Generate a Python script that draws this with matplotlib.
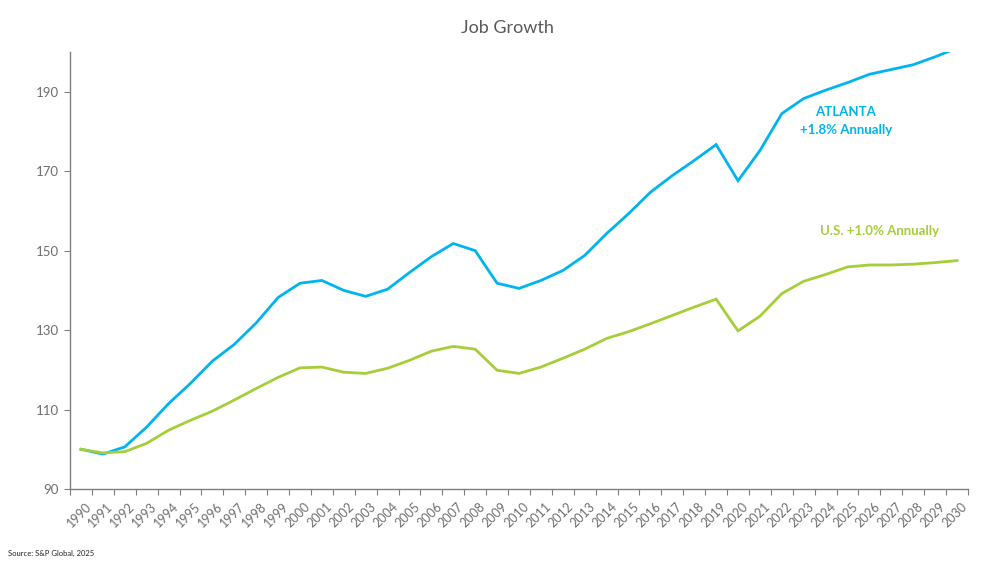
import matplotlib
matplotlib.use("Agg")
import matplotlib.pyplot as plt
import matplotlib.transforms as mtransforms
import numpy as np

years = list(range(1990, 2031))
atlanta = [100.0, 98.8, 100.6, 105.6, 111.5, 116.6, 122.2, 126.4, 131.8, 138.2,
           141.8, 142.5, 140.0, 138.5, 140.3, 144.5, 148.5, 151.8, 150.0, 141.8,
           140.5, 142.5, 145.0, 148.8, 154.3, 159.3, 164.7, 168.9, 172.7, 176.7,
           167.6, 175.2, 184.5, 188.3, 190.4, 192.3, 194.4, 195.6, 196.8, 198.8,
           201.0]
us = [100.0, 99.1, 99.4, 101.5, 104.8, 107.3, 109.6, 112.4, 115.3, 118.1,
      120.5, 120.7, 119.4, 119.1, 120.4, 122.4, 124.7, 125.9, 125.2, 119.9,
      119.1, 120.7, 122.9, 125.2, 127.9, 129.6, 131.6, 133.7, 135.8, 137.8,
      129.8, 133.5, 139.2, 142.3, 144.0, 145.9, 146.4, 146.4, 146.6, 147.0,
      147.5]
yticks = [90, 110, 130, 150, 170, 190]

BLUE = "#00B4EF"
GREEN = "#A6CE39"
GRAY = "#595959"
LGRAY = "#6E6E6E"
AX = "#7F7F7F"

plt.rcParams['font.family'] = ['Lato', 'DejaVu Sans']

fig = plt.figure(figsize=(10, 5.63), dpi=100)
ax = fig.add_axes([0.07, 0.1314, 0.898, 0.7762])

x = np.arange(len(years))
ax.plot(x, atlanta, color=BLUE, lw=2.0, solid_joinstyle='miter')
ax.plot(x, us, color=GREEN, lw=2.0, solid_joinstyle='miter')

ax.set_xlim(-0.5, len(years) - 0.5)
ax.set_ylim(90, 200)
ax.set_yticks(yticks)
ax.set_yticklabels([str(v) for v in yticks], color=LGRAY, fontsize=9.5)

ax.set_xticks(np.arange(-0.5, len(years), 1.0))
ax.set_xticklabels([])
ax.set_xticks(x, minor=True)
ax.set_xticklabels([str(y) for y in years], minor=True, rotation=45,
                   ha='right', va='top', rotation_mode='anchor',
                   color=LGRAY, fontsize=9)
ax.tick_params(axis='x', which='minor', length=0, pad=8)
ax.tick_params(axis='x', which='major', length=4, color=AX, direction='out')
ax.tick_params(axis='y', length=4, color=AX, direction='out', pad=4)

offset = mtransforms.ScaledTranslation(4/100, 0, fig.dpi_scale_trans)
for lbl in ax.get_xticklabels(minor=True):
    lbl.set_transform(lbl.get_transform() + offset)

for s in ['top', 'right']:
    ax.spines[s].set_visible(False)
for s in ['left', 'bottom']:
    ax.spines[s].set_color(AX)
    ax.spines[s].set_linewidth(1.0)

fig.text(0.507, 1 - 28/563, "Job Growth", ha='center', va='center',
         color=GRAY, fontsize=13)

fig.text(0.846, 1 - 112/563, "ATLANTA", ha='center', va='center',
         color=BLUE, fontsize=9.5, fontweight='bold')
fig.text(0.846, 1 - 130/563, "+1.8% Annually", ha='center', va='center',
         color=BLUE, fontsize=9.5, fontweight='bold')
fig.text(0.880, 1 - 231/563, "U.S. +1.0% Annually", ha='center', va='center',
         color=GREEN, fontsize=9.5, fontweight='bold')

fig.text(0.008, 1 - 553/563, "Source: S&P Global, 2025", ha='left', va='center',
         color="#222222", fontsize=5.5)

fig.savefig("out.png", dpi=100)
